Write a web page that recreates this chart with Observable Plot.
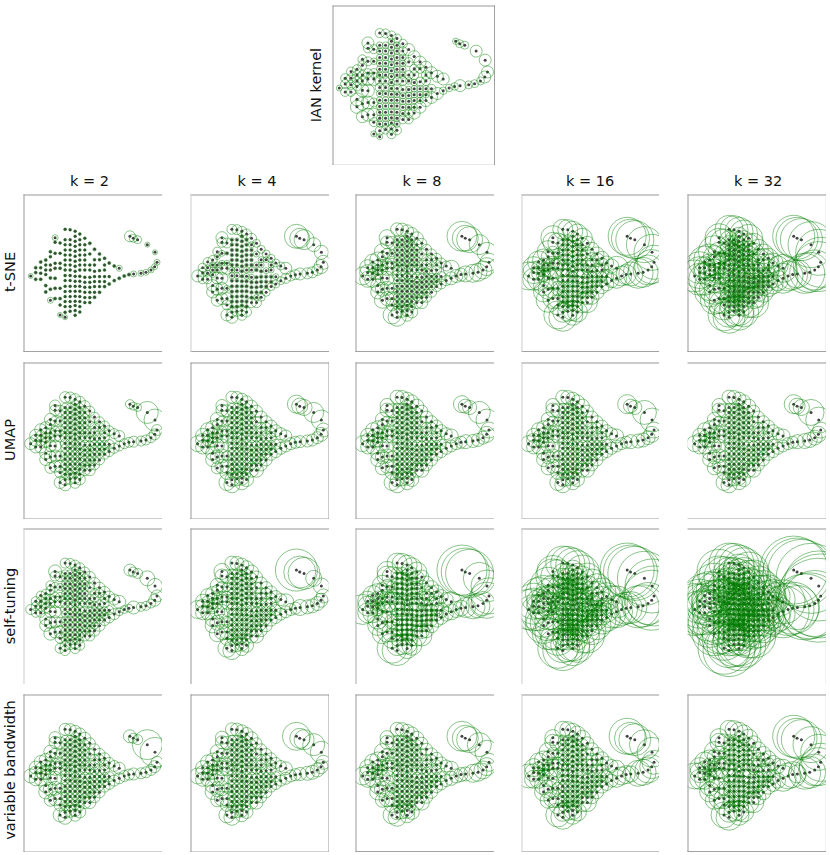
<!DOCTYPE html>
<html><head><meta charset="utf-8">
<script src="https://cdn.jsdelivr.net/npm/d3@7"></script>
<script src="https://cdn.jsdelivr.net/npm/@observablehq/plot@0.6"></script>
<style>
html,body{margin:0;padding:0;background:#fff}
#chart{position:relative;width:830px;height:855px;overflow:hidden;font-family:"DejaVu Sans",sans-serif;color:#111}
#chart svg{position:absolute;background:none}
.lab{position:absolute;font-size:14.5px;white-space:nowrap;transform:translate(-50%,-50%)}
.rot{transform:translate(-50%,-50%) rotate(-90deg)}
</style></head><body><div id="chart"></div>
<script>
// Point positions, column by column, with a region letter per point.
const columnX = [45,60,75,90,104,118,133,148,163,178,192,207,222,236,251,266,280,295,310,325,339,353,375,390,405,416,423,417,394,365,352,342];
const columnY = [
 [316],[291,306,326],[274,291,308,326],[268,283,298,312,345,364],[243,258,283,298,322,356,389],
 [201,215,248,278,293,323,353,384],[217,248,278,293,353,384,403,433],
 [176,207,222,238,253,268,283,298,315,330,347,363,378,393,408,425,440],
 [177,207,222,238,253,268,283,298,315,330,347,362,378,393,408,422],
 [182,197,212,227,242,257,272,287,302,317,332,347,362,377,392,405,420,434],
 [190,207,222,238,253,268,283,298,317,332,347,362,378,393,408,424],
 [203,222,238,253,268,283,298,320,335,350,365,381,396],
 [218,250,283,298,320,335,350,365,381,396],
 [236,267,283,302,318,333,348,365,380],[250,267,300,318,333,348,365],[263,283,298,318,333,348],
 [277,318,340],[286,330],[293,323],[316],[312],[310],[308],[305],[298],[288],[275],[245],[222],[207],[203],[197]
];
const columnRegion = ["p","lll","lbbl","lbbbmm","lbbbmms","stbbmmmm","tabmbmup",
 "taaaaaabbaaaaaaup","taaaaaabbaaaaaau","taaaaaaaaaaaaaaauu","taaaaaabbaaaaaau",
 "tbaaaabbaaaau","rbbaaaaabu","rbbaaaaar","rbbaaar","rbbaar","rbr","rr","sn",
 "n","n","s","e","e","e","g","g","h","h","q","q","o"];

// Ring radius per region, one list per panel (k = 2, 4, 8, 16, 32).
const regions = "abtulmrnghoqpse";
const ianRadii = [3.3,4.5,4.5,4.5,4.5,6.5,6,3.8,6,6,3.2,4,3,6,4];
const tsneRadii = [
 [1.3,1.4,1.4,1.4,1.6,1.6,1.6,1.7,3,2.5,5.5,4,2.5,3,3],
 [1.8,3,5,5,4.5,6,4,5,7,7,12,10,6,6,5.5],
 [3.5,5,6.5,6,8,7,5,6.5,9,10,15,13,9,8,9],
 [5,7,10,10,11,10,7,10,17,18,19,19,14,12,15],
 [9,11,14,15,16,15,10,15,25,23,21,21,16,14,20]];
const umapRadii = [
 [4.2,4.8,5.5,5.5,6,6,5,5,5.5,11,4.5,4,6,5.5,5],
 [4.2,5,6,7,7,7,6,6,7,10,9,8,8,6,6],
 [4.2,5,7,7,7,7,6,6,8,11,8.5,7,8,7,6.5],
 [4.2,5,7,7,7,7,6,6,8,12,9.5,7,8,7,7],
 [4.2,5,7,7,7,7,6,6,8,13,9.5,8,8,7,7.5]];
const selfRadii = [
 [3.6,4.5,5,5,4.5,6,5.5,4,6,7.5,6,5,5,6.5,4.5],
 [4.5,5.5,7,7,7,7.5,6,6,7,8,21,16,9,8,7],
 [6,7.5,10,10,10,10,7,8,18,16,25,24,15,10,12],
 [10,12,17,17,18,18,14,16,30,27,27,27,20,16,21],
 [16,18,20,22,22,22,17,26,42,35,34,34,26,22,33]];
const varRadii = [
 [4.2,5,6,6,6.5,7,5.5,5.5,6,15,6.5,5,7,6,5.5],
 [4.2,5,6.5,6.5,7,7.5,5.5,6,7,11,14,10,8,6.5,7],
 [4.2,5,7,7.5,8,8,6,7,9,12,15,13,9,7,9],
 [4.5,6,8,9,9,9,6.5,9,12,15,18,16,12,8,13],
 [5,7,9,10,10,10,7.5,13,19,18,21,20,13,9,16]];

const kLabels = ["k = 2","k = 4","k = 8","k = 16","k = 32"];
const rowLabels = ["t-SNE","UMAP","self-tuning","variable bandwidth"];

// Layout
const colEdges = [[23.3,162],[190.3,328.3],[355.3,494],[521.3,659],[687.3,825.7]];
const rowEdges = [[194.7,351.3],[362.3,518.3],[528.3,684],[694.7,851.3]];
const D="#999",L="#ccc",N="none";
const leftEdge  = [[D,L,D,L,D],[D,D,D,L,N],[L,D,"#aaa",L,N],[D,D,D,L,D]];
const rightEdge = [[N,N,N,N,D],[D,D,L,N,D],[N,N,N,D,D],[N,D,N,"#aaa",D]];
const bottomEdge= [[D,D,D,D,D],[D,D,D,D,D],[D,D,D,D,D],[L,L,D,"#bbb",D]];
const titleX = [89.5,257,422,590,758];
const labelY = [272,440,606,770];

const points = columnX.flatMap((x,c)=>columnY[c].map((y,i)=>({x,y,region:columnRegion[c][i]})));
const chart = document.getElementById("chart");

function panel(left,right,top,bottom,radii,xDomain,yDomain,edges){
  const w = right-left, h = bottom-top;
  const fig = Plot.plot({
    width:w+1,height:h+1,marginLeft:.5,marginRight:.5,marginTop:.5,marginBottom:.5,
    x:{domain:xDomain,axis:null},y:{domain:yDomain,axis:null},
    r:{type:"identity"},
    marks:[
      Plot.dot(points,{x:"x",y:"y",r:1.5,fill:"#444",stroke:"none"}),
      Plot.dot(points,{x:"x",y:"y",r:d=>radii[regions.indexOf(d.region)],fill:"none",stroke:"#008000",strokeWidth:.7,strokeOpacity:.65,clip:"frame"}),
      Plot.frame({anchor:"top",stroke:edges.top,strokeWidth:1}),
      Plot.frame({anchor:"bottom",stroke:edges.bottom,strokeWidth:1}),
      Plot.frame({anchor:"left",stroke:edges.left,strokeWidth:1}),
      Plot.frame({anchor:"right",stroke:edges.right,strokeWidth:1})
    ]
  });
  fig.style.left=(left-.5)+"px"; fig.style.top=(top-.5)+"px"; fig.style.maxWidth="none";
  chart.appendChild(fig);
}
function label(text,x,y,rot){
  const d=document.createElement("div");
  d.className="lab"+(rot?" rot":"");
  d.textContent=text; d.style.left=x+"px"; d.style.top=y+"px";
  chart.appendChild(d);
}

panel(332.7,494.3,5,164.3,ianRadii,[29,441],[513,107],{top:D,bottom:D,left:D,right:D});
label("IAN kernel",316,85,true);
const allRadii=[tsneRadii,umapRadii,selfRadii,varRadii];
allRadii.forEach((rows,r)=>{
  rows.forEach((radii,c)=>{
    panel(colEdges[c][0],colEdges[c][1],rowEdges[r][0],rowEdges[r][1],radii,[25,440],[543,73],
      {top:D,bottom:bottomEdge[r][c],left:leftEdge[r][c],right:rightEdge[r][c]});
  });
  label(rowLabels[r],10,labelY[r],true);
});
kLabels.forEach((t,c)=>label(t,titleX[c],181,false));
</script></body></html>
